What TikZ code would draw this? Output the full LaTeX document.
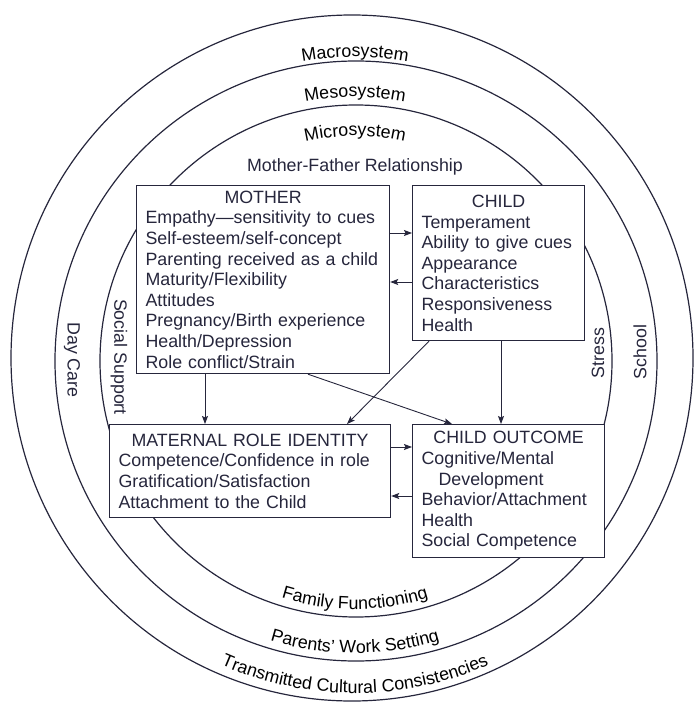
\documentclass[tikz,border=0pt]{standalone}
\usepackage{fontspec}
\setmainfont{Liberation Sans}
\usetikzlibrary{calc,arrows.meta,decorations.text}
\definecolor{ink}{RGB}{38,38,60}
\newcommand{\dfont}{\fontsize{17.8}{20.6}\selectfont}
\tikzset{
  ring/.style={line width=1.2pt},
  panel/.style={draw, line width=1.2pt, fill=white, font=\dfont, align=left,
    anchor=north west, inner xsep=9pt, inner ysep=5pt},
  flow/.style={line width=0.9pt, -{Stealth[length=8pt,width=6pt,inset=1.5pt]}},
  curved/.style={decorate, decoration={text along path, text align=center}},
  side/.style={font=\dfont, inner sep=0pt}
}

\begin{document}
\begin{tikzpicture}[x=1pt,y=1pt,color=ink]
  \useasboundingbox (0,0) rectangle (695,-703);
  \coordinate (hub) at (355,-360);
  % the three systems
  \draw[ring] (352,-358) ellipse[x radius=341pt, y radius=343pt];
  \draw[ring] (356,-361) ellipse[x radius=301pt, y radius=300pt];
  \draw[ring] (356,-361) ellipse[x radius=256pt, y radius=256pt];
  % names along the rings
  \path[curved, decoration={text={|\dfont|Macrosystem}}]
    ([shift={(160:303pt)}]hub) arc[start angle=160, end angle=20, radius=303pt];
  \path[curved, decoration={text={|\dfont|Mesosystem}}]
    ([shift={(160:263pt)}]hub) arc[start angle=160, end angle=20, radius=263pt];
  \path[curved, decoration={text={|\dfont|Microsystem}}]
    ([shift={(160:224pt)}]hub) arc[start angle=160, end angle=20, radius=224pt];
  \path[curved, decoration={text={|\dfont|Family Functioning}}]
    ([shift={(200:249pt)}]hub) arc[start angle=200, end angle=340, radius=249pt];
  \path[curved, decoration={text={|\dfont|Parents’ Work Setting}}]
    ([shift={(200:293pt)}]hub) arc[start angle=200, end angle=340, radius=293pt];
  \path[curved, decoration={text={|\dfont|Transmitted Cultural Consistencies}}]
    ([shift={(200:333pt)}]hub) arc[start angle=200, end angle=340, radius=333pt];
  \node[side] (relation) at (355,-167) {Mother-Father Relationship};
  \node[side, rotate=-90] (daycare) at (72,-360) {Day Care};
  \node[side, rotate=-90] (support) at (119,-357) {Social Support};
  \node[side, rotate=90] (stress) at (598,-353) {Stress};
  \node[side, rotate=90] (school) at (640,-352) {School};
  % boxes
  \node[panel, text width=235pt, minimum height=188pt] (mother) at (136,-185)
    {\makebox[\linewidth]{MOTHER}\\
     Empathy—sensitivity to cues\\
     Self-esteem/self-concept\\
     Parenting received as a child\\
     Maturity/Flexibility\\
     Attitudes\\
     Pregnancy/Birth experience\\
     Health/Depression\\
     Role conflict/Strain};
  \node[panel, text width=154pt, minimum height=155pt] (child) at (412,-185)
    {\makebox[\linewidth]{CHILD}\\
     Temperament\\
     Ability to give cues\\
     Appearance\\
     Characteristics\\
     Responsiveness\\
     Health};
  \node[panel, text width=263pt, minimum height=93pt] (identity) at (109,-424)
    {\makebox[\linewidth]{MATERNAL ROLE IDENTITY}\\
     Competence/Confidence in role\\
     Gratification/Satisfaction\\
     Attachment to the Child};
  \node[panel, text width=174pt, minimum height=133pt] (outcome) at (412,-424)
    {\makebox[\linewidth]{CHILD OUTCOME}\\
     Cognitive/Mental\\
     \hspace*{17pt}Development\\
     Behavior/Attachment\\
     Health\\
     Social Competence};
  % arrows
  \draw[flow] ([yshift=-48pt]mother.north east) -- ([yshift=-48pt]child.north west);
  \draw[flow] ([yshift=-97pt]child.north west) -- ([yshift=-97pt]mother.north east);
  \draw[flow] ([xshift=69pt]mother.south west) -- ([xshift=96pt]identity.north west);
  \draw[flow] ([xshift=172pt]mother.south west) -- ([xshift=40pt]outcome.north west);
  \draw[flow] ([xshift=17pt]child.south west) -- ([xshift=238pt]identity.north west);
  \draw[flow] ([xshift=89pt]child.south west) -- ([xshift=89pt]outcome.north west);
  \draw[flow] ([yshift=-23pt]identity.north east) -- ([yshift=-23pt]outcome.north west);
  \draw[flow] ([yshift=-72pt]outcome.north west) -- ([yshift=-72pt]identity.north east);
\end{tikzpicture}
\end{document}
